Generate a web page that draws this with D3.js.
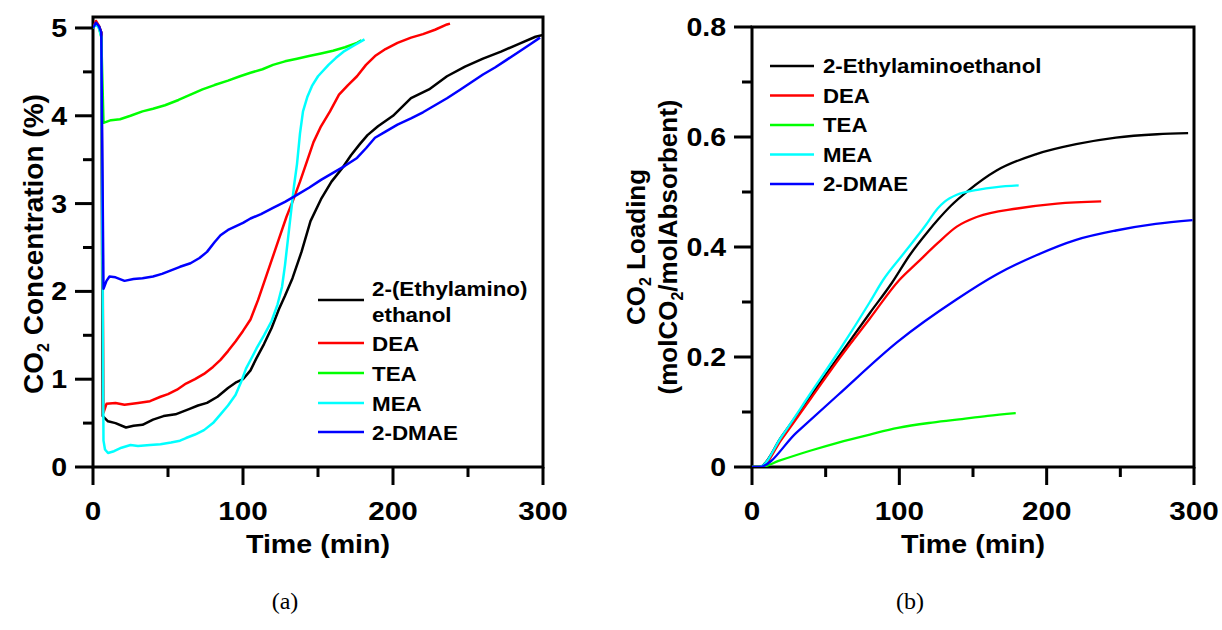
<!DOCTYPE html>
<html>
<head>
<meta charset="utf-8">
<script src="https://cdn.jsdelivr.net/npm/d3@7"></script>
<style>
  body { margin: 0; background: #fff; }
  svg { display: block; }
  .lbl { font-family: "Liberation Sans", Arial, sans-serif; font-weight: bold; fill: #000; }
  .cap { font-family: "Liberation Serif", "Times New Roman", serif; fill: #000; }
</style>
</head>
<body>
<svg id="chart" width="1222" height="630"></svg>
<script>
// ---- data: panel (a) CO2 concentration (%) vs time (min)
const seriesNames = ["2-(Ethylamino)\nethanol", "DEA", "TEA", "MEA", "2-DMAE"];
const seriesNamesB = ["2-Ethylaminoethanol", "DEA", "TEA", "MEA", "2-DMAE"];
const seriesColors = ["#000000", "#ff0000", "#00ff00", "#00ffff", "#0000ff"];

const concEAE = [[0,5.0],[2,5.06],[4,5.02],[5.5,4.95],[6.5,0.58],[10,0.52],[15,0.5],[22,0.45],[27,0.47],[33,0.48],[40,0.54],[47,0.58],[55,0.6],[64,0.66],[70,0.7],[76,0.73],[83,0.8],[90,0.9],[95,0.96],[100,1.0],[105,1.1],[109,1.24],[114,1.4],[119,1.58],[124,1.8],[128,1.95],[133,2.15],[139,2.45],[145,2.8],[152,3.05],[159,3.25],[166,3.4],[172,3.55],[178,3.68],[183,3.78],[190,3.88],[200,4.0],[212,4.2],[224,4.3],[236,4.45],[248,4.56],[260,4.65],[272,4.73],[284,4.82],[295,4.9],[300,4.92]];
const concDEA = [[0,5.0],[2,5.08],[4,5.02],[5.5,4.95],[7,0.62],[9,0.72],[15,0.73],[21,0.71],[30,0.73],[38,0.75],[45,0.8],[50,0.83],[56,0.88],[62,0.95],[68,1.0],[74,1.06],[80,1.14],[85,1.22],[90,1.32],[95,1.43],[100,1.55],[105,1.68],[110,1.9],[114,2.1],[119,2.35],[124,2.6],[129,2.85],[133,3.02],[138,3.25],[142,3.45],[147,3.7],[152,3.88],[158,4.05],[164,4.24],[170,4.35],[176,4.45],[182,4.58],[188,4.68],[195,4.76],[203,4.83],[212,4.89],[220,4.93],[228,4.98],[236,5.04],[238,5.05]];
const concTEA = [[0,5.0],[2,5.05],[4,5.0],[5.5,4.9],[7,3.92],[12,3.95],[18,3.96],[25,4.0],[33,4.05],[40,4.08],[48,4.12],[57,4.18],[65,4.24],[73,4.3],[81,4.35],[90,4.4],[98,4.45],[105,4.49],[113,4.53],[120,4.58],[128,4.62],[136,4.65],[144,4.68],[152,4.71],[160,4.74],[168,4.78],[176,4.83],[179,4.86]];
const concMEA = [[0,5.0],[2,5.04],[4,5.0],[5.5,4.9],[7,0.3],[8,0.2],[10,0.16],[14,0.18],[19,0.22],[25,0.25],[30,0.24],[38,0.25],[45,0.26],[52,0.28],[58,0.3],[62,0.33],[68,0.37],[74,0.42],[80,0.5],[85,0.6],[90,0.7],[95,0.82],[99,0.98],[102,1.12],[106,1.25],[109,1.35],[114,1.5],[119,1.66],[123,1.85],[126,2.05],[128,2.3],[130,2.6],[132,2.9],[134,3.2],[136,3.45],[138,3.8],[140,4.05],[143,4.22],[146,4.34],[150,4.45],[157,4.58],[162,4.66],[167,4.73],[174,4.8],[181,4.87]];
const concDMAE = [[0,5.0],[2,5.06],[4,5.02],[5.5,4.95],[7,2.03],[9,2.12],[11,2.17],[15,2.16],[21,2.12],[27,2.14],[33,2.15],[40,2.17],[46,2.2],[52,2.24],[58,2.28],[65,2.32],[71,2.38],[76,2.45],[81,2.56],[85,2.64],[90,2.7],[95,2.74],[100,2.78],[105,2.83],[112,2.88],[120,2.95],[128,3.02],[136,3.1],[144,3.18],[152,3.27],[160,3.35],[168,3.43],[176,3.52],[182,3.63],[188,3.75],[195,3.82],[203,3.9],[212,3.97],[220,4.04],[228,4.12],[236,4.2],[245,4.3],[252,4.38],[260,4.47],[268,4.55],[276,4.64],[284,4.73],[292,4.82],[298,4.89]];

// ---- data: panel (b) CO2 loading (mol CO2 / mol absorbent) vs time (min)
const loadEAE = [[0,0],[5,0],[20,0.055],[40,0.13],[60,0.205],[80,0.28],[95,0.335],[107,0.385],[120,0.43],[126,0.449],[135,0.475],[147,0.503],[166,0.539],[193,0.569],[220,0.587],[247,0.599],[275,0.605],[296,0.607]];
const loadDEA = [[0,0],[6,0],[20,0.05],[40,0.125],[60,0.2],[80,0.27],[100,0.34],[112,0.371],[126,0.407],[139,0.437],[153,0.455],[180,0.47],[207,0.479],[237,0.483]];
const loadTEA = [[0,0],[6,0],[18,0.011],[40,0.03],[58,0.044],[80,0.059],[99,0.071],[120,0.08],[139,0.086],[160,0.093],[179,0.098]];
const loadMEA = [[0,0],[5,0],[20,0.055],[40,0.135],[60,0.215],[80,0.3],[89,0.34],[102,0.385],[118,0.44],[126,0.47],[131,0.483],[139,0.495],[153,0.504],[166,0.509],[181,0.512]];
const loadDMAE = [[0,0],[5,0],[30,0.062],[58,0.13],[99,0.228],[139,0.305],[166,0.35],[193,0.385],[220,0.413],[247,0.43],[274,0.442],[299,0.449]];

const xTicks = [0, 100, 200, 300];
const xMinor = [50, 150, 250];
const yTicksA = [0, 1, 2, 3, 4, 5];
const yMinorA = [0.5, 1.5, 2.5, 3.5, 4.5];
const yTicksB = [0, 0.2, 0.4, 0.6, 0.8];
const yMinorB = [0.1, 0.3, 0.5, 0.7];

const STRETCH = 1.14;   // reference glyphs are a bit wider than Liberation Sans
const svg = d3.select("#chart");
svg.append("rect").attr("width", 1222).attr("height", 630).attr("fill", "#fff");

// horizontal label with a slight horizontal stretch
function hText(sel, x, y, fs, anchor, txt, k = STRETCH) {
  return sel.append("text").attr("class", "lbl").attr("font-size", fs)
    .attr("text-anchor", anchor)
    .attr("transform", `translate(${x},${y}) scale(${k},1)`)
    .text(txt);
}

function drawPanel(opt) {
  const x = d3.scaleLinear().domain([0, 300]).range([opt.left, opt.right]);
  const y = d3.scaleLinear().domain(opt.yDomain).range([opt.bottom, opt.top]);
  const g = svg.append("g");
  const sw = 3;

  // tick marks as filled rects (major 18px, minor 9px, pointing outward)
  const tk = g.append("g").attr("fill", "#000");
  tk.selectAll(null).data(xTicks).join("rect")
    .attr("x", d => x(d) - sw / 2).attr("y", opt.bottom).attr("width", sw).attr("height", 18);
  tk.selectAll(null).data(xMinor).join("rect")
    .attr("x", d => x(d) - sw / 2).attr("y", opt.bottom).attr("width", sw).attr("height", 10);
  tk.selectAll(null).data(opt.yTicks).join("rect")
    .attr("x", opt.left - 18).attr("y", d => y(d) - sw / 2).attr("width", 18).attr("height", sw);
  tk.selectAll(null).data(opt.yMinor).join("rect")
    .attr("x", opt.left - 10).attr("y", d => y(d) - sw / 2).attr("width", 10).attr("height", sw);

  xTicks.forEach(v => hText(g, x(v), 520, 26, "middle", d3.format("d")(v)));
  opt.yTicks.forEach(v => hText(g, opt.left - 26, y(v) + 9, 25, "end", opt.fmt(v)));

  // frame
  g.append("rect")
    .attr("x", opt.left).attr("y", opt.top)
    .attr("width", opt.right - opt.left).attr("height", opt.bottom - opt.top)
    .attr("fill", "none").attr("stroke", "#000").attr("stroke-width", sw);

  const line = d3.line().x(d => x(d[0])).y(d => y(d[1])).curve(opt.curve);
  const clipId = "clip" + opt.id;
  svg.append("defs").append("clipPath").attr("id", clipId).append("rect")
    .attr("x", opt.left).attr("y", opt.top - 4).attr("width", opt.right - opt.left).attr("height", opt.bottom - opt.top + 4);
  g.append("g").attr("clip-path", `url(#${clipId})`)
    .selectAll("path").data(opt.series).join("path")
    .attr("d", d => line(d))
    .attr("fill", "none")
    .attr("stroke", (d, i) => seriesColors[i])
    .attr("stroke-width", opt.lw)
    .attr("stroke-linejoin", "round");

  hText(g, (opt.left + opt.right) / 2, 553, 26, "middle", "Time (min)", 1.1);
  return { x, y, g };
}

// ---- panel (a)
const pa = drawPanel({
  id: "a", left: 93, right: 543, top: 17, bottom: 467,
  yDomain: [0, 5.125], yTicks: yTicksA, yMinor: yMinorA, fmt: d3.format("d"),
  series: [concEAE, concDEA, concTEA, concMEA, concDMAE], curve: d3.curveLinear, lw: 2.5
});

const ta = pa.g.append("text").attr("class", "lbl").attr("font-size", 28)
  .attr("text-anchor", "middle")
  .attr("transform", "translate(43,244) rotate(-90)");
ta.append("tspan").text("CO");
ta.append("tspan").attr("font-size", 16).attr("dy", 6).text("2");
ta.append("tspan").attr("dy", -6).text(" Concentration (%)");

// legend (a)
const legA = pa.g.append("g");
const legAY = [300, 343, 373, 403, 432];
seriesNames.forEach((name, i) => {
  legA.append("line").attr("x1", 318).attr("x2", 364)
    .attr("y1", legAY[i]).attr("y2", legAY[i])
    .attr("stroke", seriesColors[i]).attr("stroke-width", 2.5);
  const lines = name.split("\n");
  if (lines.length > 1) {
    hText(legA, 372, legAY[i] - 4, 20, "start", lines[0], 1.12);
    hText(legA, 372, legAY[i] + 22, 20, "start", lines[1], 1.12);
  } else {
    hText(legA, 372, legAY[i] + 8, 20, "start", name, 1.12);
  }
});

// ---- panel (b)
const pb = drawPanel({
  id: "b", left: 752, right: 1194, top: 27, bottom: 467,
  yDomain: [0, 0.8], yTicks: yTicksB, yMinor: yMinorB, fmt: d => d === 0 ? "0" : d3.format(".1f")(d),
  series: [loadEAE, loadDEA, loadTEA, loadMEA, loadDMAE], curve: d3.curveMonotoneX, lw: 2.3
});

const tb1 = pb.g.append("text").attr("class", "lbl").attr("font-size", 26)
  .attr("text-anchor", "middle")
  .attr("transform", "translate(645,247) rotate(-90)");
tb1.append("tspan").text("CO");
tb1.append("tspan").attr("font-size", 16).attr("dy", 6).text("2");
tb1.append("tspan").attr("dy", -6).text(" Loading");
const tb2 = pb.g.append("text").attr("class", "lbl").attr("font-size", 26)
  .attr("text-anchor", "middle")
  .attr("transform", "translate(677,247) rotate(-90)");
tb2.append("tspan").text("(molCO");
tb2.append("tspan").attr("font-size", 16).attr("dy", 6).text("2");
tb2.append("tspan").attr("dy", -6).text("/molAbsorbent)");

const legB = pb.g.append("g");
seriesNamesB.forEach((name, i) => {
  const yy = 66 + i * 29.5;
  legB.append("line").attr("x1", 770).attr("x2", 814)
    .attr("y1", yy).attr("y2", yy)
    .attr("stroke", seriesColors[i]).attr("stroke-width", 2.3);
  hText(legB, 823, yy + 7, 19.5, "start", name, 1.14);
});

// captions
svg.append("text").attr("class", "cap").attr("font-size", 24)
  .attr("x", 285).attr("y", 609).attr("text-anchor", "middle").text("(a)");
svg.append("text").attr("class", "cap").attr("font-size", 24)
  .attr("x", 910).attr("y", 609).attr("text-anchor", "middle").text("(b)");
</script>
</body>
</html>
